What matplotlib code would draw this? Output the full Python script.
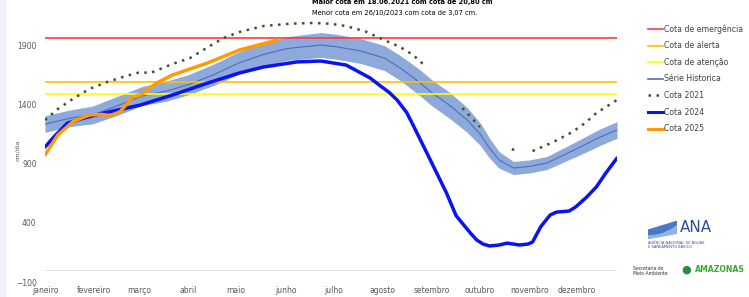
import numpy as np
import matplotlib.pyplot as plt
from matplotlib.lines import Line2D
from matplotlib.patches import Rectangle

# eixo x: dia do ano
month_days = [0, 31, 59, 90, 120, 151, 181, 212, 243, 273, 304, 334]
month_labels = ['janeiro', 'fevereiro', 'março', 'abril', 'maio', 'junho',
                'julho', 'agosto', 'setembro', 'outubro', 'novembro', 'dezembro']

# cotas de referência
cota_emergencia = 1960
cota_alerta = 1590
cota_atencao = 1490

# série histórica (média e faixa)
hist_days = [0, 15, 30, 46, 61, 76, 90, 106, 122, 137, 152, 173, 183, 198, 213,
             223, 235, 243, 254, 265, 273, 279, 285, 294, 304, 315, 326, 336, 348, 359]
hist_mean = [1233, 1280, 1310, 1390, 1470, 1510, 1565, 1650, 1750, 1820, 1870, 1900, 1885, 1850, 1790,
             1706, 1585, 1495, 1390, 1267, 1150, 1030, 930, 862, 875, 904, 975, 1039, 1120, 1183]
hist_spread = [70, 70, 75, 80, 80, 85, 85, 90, 95, 100, 100, 105, 105, 105, 105,
               105, 110, 110, 110, 105, 95, 85, 70, 55, 55, 55, 60, 65, 70, 70]

# cota 2021 (com falhas)
days_2021 = [0, 8, 18, 28, 39, 50, 60, 66, 80, 91, 102, 112, 122, 137, 154, 168, 179, 189,
             201, 210, 223, 231, 238, 250, 262, 273, 285, 293, 296, 300, 306, 319, 331, 339, 346, 359]
cota_2021 = [1267, 1360, 1450, 1530, 1588, 1635, 1672, 1663, 1740, 1790, 1880, 1959, 2010, 2060,
             2080, 2086, 2080, 2060, 2015, 1959, 1883, 1816, 1731, np.nan, 1368, 1208, np.nan,
             1022, 1005, np.nan, 1005, 1081, 1166, 1242, 1326, 1436]

# cota 2024
days_2024 = [0, 6, 14, 22, 35, 60, 80, 102, 122, 137, 158, 173, 189, 204, 210, 216, 221, 227,
             231, 242, 252, 258, 267, 271, 275, 279, 285, 290, 294, 298, 303, 306, 311, 317, 321,
             329, 333, 340, 346, 352, 359]
cota_2024 = [1039, 1130, 1240, 1275, 1320, 1394, 1478, 1579, 1664, 1714, 1757, 1765, 1731, 1622,
             1560, 1500, 1436, 1330, 1225, 925, 651, 460, 313, 254, 220, 204, 212, 228, 220, 212,
             220, 237, 364, 465, 490, 499, 533, 617, 702, 820, 946]

# cota 2025
days_2025 = [0, 8, 18, 28, 35, 41, 47, 55, 60, 70, 80, 102, 122, 146]
cota_2025 = [972, 1140, 1259, 1309, 1315, 1305, 1335, 1461, 1478, 1579, 1647, 1748, 1858, 1942]

W, H = 749, 297
fig = plt.figure(figsize=(W / 100, H / 100), dpi=100)
fig.patch.set_facecolor('white')
fig.patches.append(Rectangle((0, 0), 5 / W, 1, transform=fig.transFigure,
                             color='#EEF3FB', zorder=0))

ax = fig.add_axes([45 / W, 15 / H, 572 / W, 264 / H])
ax.set_xlim(0, 359)
ax.set_ylim(-100, 2128)

mean = np.array(hist_mean)
spread = np.array(hist_spread)
ax.fill_between(hist_days, mean - spread, mean + spread, color='#8EA9DB', lw=0, zorder=2)
ax.plot(hist_days, hist_mean, color='#4E6FB5', lw=0.8, zorder=3)

ax.axhline(cota_emergencia, color='#FF3B3B', lw=1.2, zorder=4)
ax.axhline(cota_alerta, color='#FFC000', lw=1.2, zorder=4)
ax.axhline(cota_atencao, color='#FFFF00', lw=1.2, zorder=4)
ax.axhline(0, color='#E3E3E3', lw=0.8, zorder=1)

ax.plot(days_2021, cota_2021, color='#375623', lw=1.8, ls=(0, (1, 2.2)), zorder=5)
ax.plot(days_2024, cota_2024, color='#0A14F0', lw=2.5, zorder=5, solid_capstyle='round')
ax.plot(days_2025, cota_2025, color='#FF9A00', lw=2.5, zorder=6, solid_capstyle='round')

for s in ax.spines.values():
    s.set_visible(False)
ax.set_yticks([-100, 400, 900, 1400, 1900])
ax.set_xticks(month_days)
ax.set_xticklabels(month_labels)
ax.tick_params(axis='both', length=0, labelsize=5.5, labelcolor='#595959')
ax.tick_params(axis='y', pad=6)
ax.tick_params(axis='x', pad=3)

fig.text(18 / W, 1 - 150 / H, 'cm/dia', rotation=90, fontsize=4.5, color='#595959',
         ha='center', va='center')

fig.text(312 / W, 1 - 2 / H, 'Maior cota em 18.06.2021 com cota de 20,80 cm',
         fontsize=4.8, fontweight='bold', va='center')
fig.text(312 / W, 1 - 13 / H, 'Menor cota em 26/10/2023 com cota de 3,07 cm.',
         fontsize=4.8, va='center')

handles = [
    Line2D([], [], color='#FF3B3B', lw=1.2),
    Line2D([], [], color='#FFC000', lw=1.2),
    Line2D([], [], color='#FFFF00', lw=1.2),
    Line2D([], [], color='#4E6FB5', lw=1.2),
    Line2D([], [], color='#375623', lw=1.8, ls=(0, (1, 2.2))),
    Line2D([], [], color='#0A14F0', lw=2.2),
    Line2D([], [], color='#FF9A00', lw=2.2),
]
labels = ['Cota de emergência', 'Cota de alerta', 'Cota de atenção', 'Série Historica',
          'Cota 2021', 'Cota 2024', 'Cota 2025']
leg = fig.legend(handles, labels, loc='upper left', bbox_to_anchor=(645 / W, 1 - 21 / H),
                 frameon=False, fontsize=5.6, handlelength=1.9, handletextpad=0.15,
                 labelspacing=0.98, borderaxespad=0)
for t in leg.get_texts():
    t.set_color('#404040')

# logos (aproximação em texto)
fig.text(680 / W, 1 - 228 / H, 'ANA', fontsize=11, color='#2F4F9A', va='center')
fig.text(648 / W, 1 - 245 / H, 'AGÊNCIA NACIONAL DE ÁGUAS\nE SANEAMENTO BÁSICO',
         fontsize=2.6, color='#2F4F9A', va='center', linespacing=1.1)
wave = fig.add_axes([648 / W, 1 - 238 / H, 28 / W, 17 / H])
wave.axis('off')
t = np.linspace(0, 1, 50)
wave.fill_between(t, 0.2 + 0.6 * t ** 2, 0.5 + 0.5 * t, color='#4A78C6')
wave.fill_between(t, 0.0 + 0.3 * t, 0.15 + 0.55 * t ** 2, color='#8FB3E3')
wave.set_xlim(0, 1)
wave.set_ylim(0, 1)
fig.text(633 / W, 1 - 271 / H, 'Secretaria do\nMeio Ambiente', fontsize=3.3,
         color='#333333', va='center', linespacing=1.1)
fig.text(695 / W, 1 - 270 / H, 'AMAZONAS', fontsize=5.6, fontweight='bold',
         color='#3AA935', va='center')
fig.text(681 / W, 1 - 270 / H, '●', fontsize=8, color='#2E8B3A', va='center')

fig.savefig('out.png', dpi=100)
